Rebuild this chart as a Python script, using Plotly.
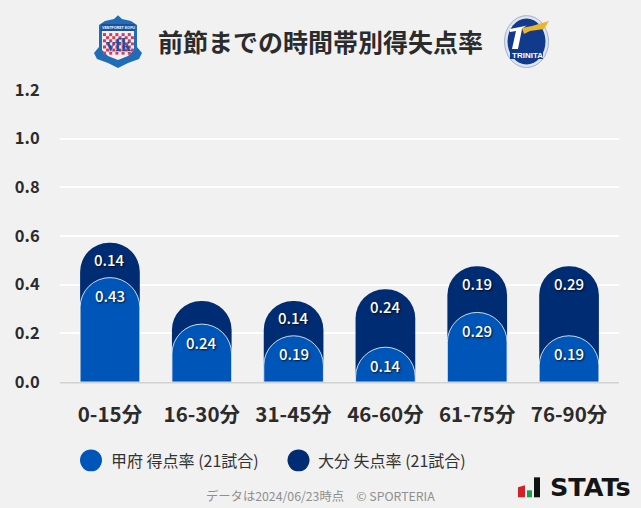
import plotly.graph_objects as go

categories = ["0-15分", "16-30分", "31-45分", "46-60分", "61-75分", "76-90分"]
home_values = [0.429, 0.238, 0.19, 0.143, 0.286, 0.19]
away_values = [0.143, 0.095, 0.143, 0.238, 0.19, 0.286]
away_labels = ["0.14", "", "0.14", "0.24", "0.19", "0.29"]
home_labels = ["0.43", "0.24", "0.19", "0.14", "0.29", "0.19"]
y_ticks = [0, 0.2, 0.4, 0.6, 0.8, 1.0, 1.2]
title_text = "前節までの時間帯別得失点率"
legend_names = ["甲府 得点率 (21試合)", "大分 失点率 (21試合)"]
footer_text = "データは2024/06/23時点　© SPORTERIA"

W, H = 641, 508
L, T, PW, PH = 60, 90, 559, 292.5
BASE = T + PH
FONT = "Noto Sans CJK JP"
HOME = "#0055b8"
AWAY = "#002c73"
totals = [h + a for h, a in zip(home_values, away_values)]


def fx(x):
    return (x - L) / PW


def fy(y):
    return (BASE - y) / PH


fig = go.Figure()
fig.add_bar(x=categories, y=totals, marker=dict(color=AWAY, line=dict(width=0)),
            hoverinfo="skip", showlegend=False)
fig.add_bar(x=categories, y=home_values, yaxis="y2",
            marker=dict(color=HOME, line=dict(width=1, color="rgba(255,255,255,0.8)")),
            hoverinfo="skip", showlegend=False)

shadow = "1px 1px 2px rgba(0,0,0,0.75)"
annotations = []
for c, t, lab in zip(categories, totals, away_labels):
    if lab:
        annotations.append(dict(x=c, y=t, text=lab, showarrow=False, yshift=-17, yanchor="middle",
                                font=dict(family=FONT, size=15, color="white", weight=500, shadow=shadow)))
for c, t, lab in zip(categories, home_values, home_labels):
    annotations.append(dict(x=c, y=t, text=lab, showarrow=False, yshift=-18, yanchor="middle",
                            font=dict(family=FONT, size=15, color="white", weight=500, shadow=shadow)))


def px(x, y, text, size, color, weight=400, anchor="left", family=FONT):
    return dict(xref="paper", yref="paper", x=fx(x), y=fy(y),
                text=text, showarrow=False, xanchor=anchor, yanchor="middle",
                font=dict(family=family, size=size, color=color, weight=weight))


annotations += [
    px(320.5, 41, title_text, 25, "#2b2b2b", 700, "center"),
    px(109, 461, legend_names[0], 16, "#333333"),
    px(316, 461, legend_names[1], 16, "#333333"),
    px(320.5, 497, footer_text, 12.3, "#8f8f8f", 400, "center"),
    px(548, 488, "STATs", 25.5, "#151515", 700, "left", "DejaVu Sans"),
    # crest lettering
    px(118, 28, "VENTFORET KOFU", 3.6, "#ffffff", 700, "center", "Liberation Sans"),
    px(118, 45, "vfk", 18, "#1d4f9c", 700, "center", "Liberation Serif"),
    px(527, 55, "TRINITA", 8, "#ffffff", 700, "center", "Liberation Sans"),
]


def ellipse(cx, cy, rx, ry, color, line=None, lw=0):
    return dict(type="circle", xref="x domain", yref="y domain", layer="above",
                x0=fx(cx - rx), x1=fx(cx + rx), y0=fy(cy + ry), y1=fy(cy - ry),
                fillcolor=color, line=dict(color=line or color, width=lw))


def path(points, color):
    d = "M " + " L ".join(f"{fx(x):.5f},{fy(y):.5f}" for x, y in points) + " Z"
    return dict(type="path", xref="x domain", yref="y domain", layer="above", path=d,
                fillcolor=color, line=dict(color=color, width=0))


def rect(x0, y0, x1, y1, color):
    return path([(x0, y0), (x1, y0), (x1, y1), (x0, y1)], color)


checks = []
for row in range(7):
    for col in range(10):
        if (row + col) % 2 == 0:
            checks.append(rect(103 + col * 3.1, 33 + row * 3.1, 106 + col * 3.1, 36 + row * 3.1, "#cf3d58"))

shapes = [
    # legend dots
    ellipse(91, 461, 11, 11, HOME), ellipse(298.5, 461, 11, 11, AWAY),
    # baseline
    rect(60, 382.4, 619, 384, "#d2d2d2"),
    # home crest
    path([(118, 15), (122, 19), (131, 21), (137, 25), (137, 47), (142, 53), (139, 59), (128, 63),
          (118, 68), (108, 63), (97, 59), (94, 53), (99, 47), (99, 25), (105, 21), (114, 19)], "#1f6cb8"),
    path([(102, 31), (134, 31), (134, 50), (128, 56), (118, 60), (108, 56), (102, 50)], "#f6eef0"),
    rect(101, 24, 135, 31, "#1d4f9c"),
] + checks + [
    # away crest
    ellipse(526.5, 41.5, 22, 26, "#dfe4ee", "#9fb0d0", 1),
    ellipse(526.5, 41.5, 19, 23, "#123a8c"),
    path([(510, 29), (525, 26), (527, 25), (522, 29), (518, 49), (512, 49), (516, 31), (510, 32)], "#ffffff"),
    path([(522, 28), (532, 26), (549, 21), (544, 29), (530, 31), (524, 34)], "#e9b52d"),
    rect(510, 50, 543, 59, "#123a8c"),
    # STATs mark
    path([(518, 488), (525, 486), (525, 498), (518, 498)], "#d42027"),
    rect(527, 491, 532, 498, "#17a34a"),
    rect(534, 478, 540, 498, "#111111"),
]

fig.update_layout(
    width=W, height=H, autosize=False,
    margin=dict(l=L, r=W - L - PW, t=T, b=H - BASE),
    paper_bgcolor="#f1f1f1", plot_bgcolor="#f1f1f1",
    barmode="overlay", bargap=0.35, barcornerradius=30,
    font=dict(family=FONT),
    showlegend=False,
    xaxis=dict(type="category", range=[-0.544, 5.544], showgrid=False, zeroline=False,
               tickfont=dict(family=FONT, size=20.5, color="#2b2b2b", weight=700),
               ticks="outside", ticklen=14, tickcolor="rgba(0,0,0,0)", showline=False,
               fixedrange=True),
    yaxis=dict(range=[0, 1.2], tickvals=y_ticks, ticktext=[f"{v:.1f}" for v in y_ticks],
               showgrid=True, gridcolor="#ffffff", gridwidth=2, zeroline=False, showline=False,
               tickfont=dict(family=FONT, size=16.5, color="#2b2b2b", weight=700),
               ticks="outside", ticklen=16, tickcolor="rgba(0,0,0,0)", fixedrange=True),
    yaxis2=dict(range=[0, 1.2], overlaying="y", visible=False, fixedrange=True),
    annotations=annotations,
    shapes=shapes,
)
fig.write_html("out.html", config={"displayModeBar": False},
               post_script="document.documentElement.style.background='#f1f1f1';document.body.style.margin='0';document.body.style.overflow='hidden';")
